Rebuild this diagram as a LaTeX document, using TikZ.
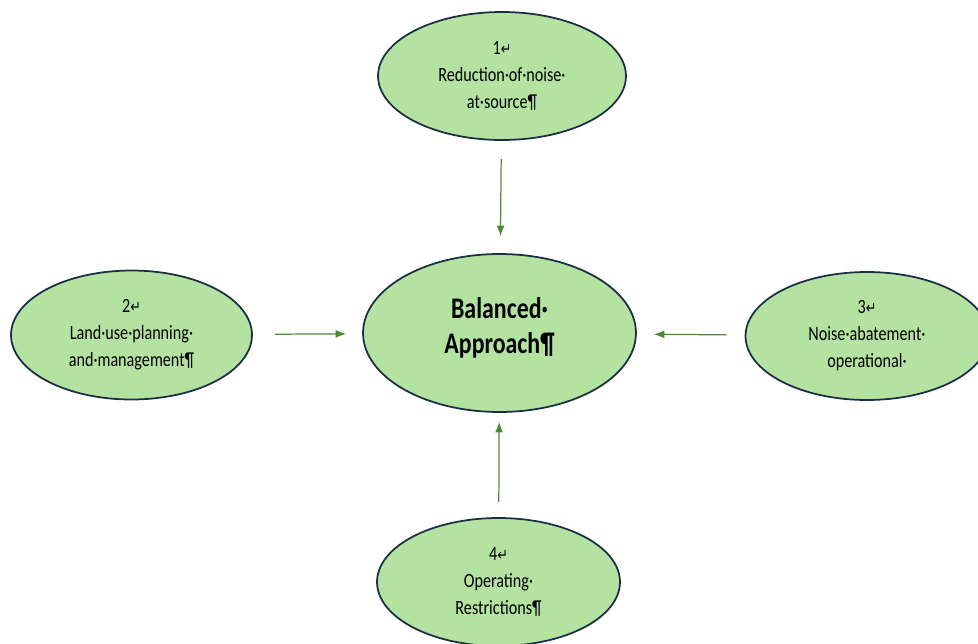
\documentclass[tikz,border=0pt]{standalone}
\usepackage{fontspec}
\setmainfont{Carlito}[FakeStretch=0.8]
\newfontfamily\arrowfont{DejaVu Sans}[FakeStretch=0.8]
\usetikzlibrary{shapes.geometric,arrows.meta}

\definecolor{leafgreen}{HTML}{B3E2A1}
\definecolor{rimblue}{HTML}{1C2E45}
\definecolor{arrowgreen}{HTML}{4A8A32}
\newcommand\retmark{{\arrowfont\small ↵}}

\tikzstyle{measure} = [ellipse,line width=1pt,draw=rimblue,fill=leafgreen,inner sep=0pt,minimum width=4.86cm,minimum height=2.56cm,align=center,font=\fontsize{11.5}{15.4}\selectfont]
\tikzstyle{core} = [measure,minimum width=5.46cm,minimum height=3.16cm,font=\bfseries\fontsize{17}{20}\selectfont]
\tikzstyle{link} = [arrowgreen,line width=0.7pt,shorten <=0.36cm,shorten >=0.34cm]

\begin{document}
\begin{tikzpicture}[x=0.02cm,y=-0.02cm,>={Latex[length=6pt,width=4.5pt]}]

	\useasboundingbox (0,0) rectangle (978,643);
	\clip (0,0) rectangle (978,643);

	\node (core) [core] at (499.5,333) {Balanced·\\Approach¶\\[-0.42cm]};
	\node (m_1) [measure,minimum width=4.96cm] at (502,76) {1\retmark\\Reduction·of·noise·\\at·source¶};
	\node (m_2) [measure,minimum width=4.82cm,minimum height=2.58cm] at (131.5,335) {2\retmark\\Land·use·planning·\\and·management¶};
	\node (m_3) [measure] at (867,336) {3\retmark\\Noise·abatement·\\operational·};
	\node (m_4) [measure] at (498.5,582) {4\retmark\\Operating·\\Restrictions¶};

	\path[->]
		(m_1) edge[link] (core)
		(m_2) edge[link,shorten <=0.44cm,shorten >=0.32cm] (core)
		(m_3) edge[link] (core)
		(m_4) edge[link,shorten <=0.3cm,shorten >=0.18cm] (core)
		;

\end{tikzpicture}
\end{document}
